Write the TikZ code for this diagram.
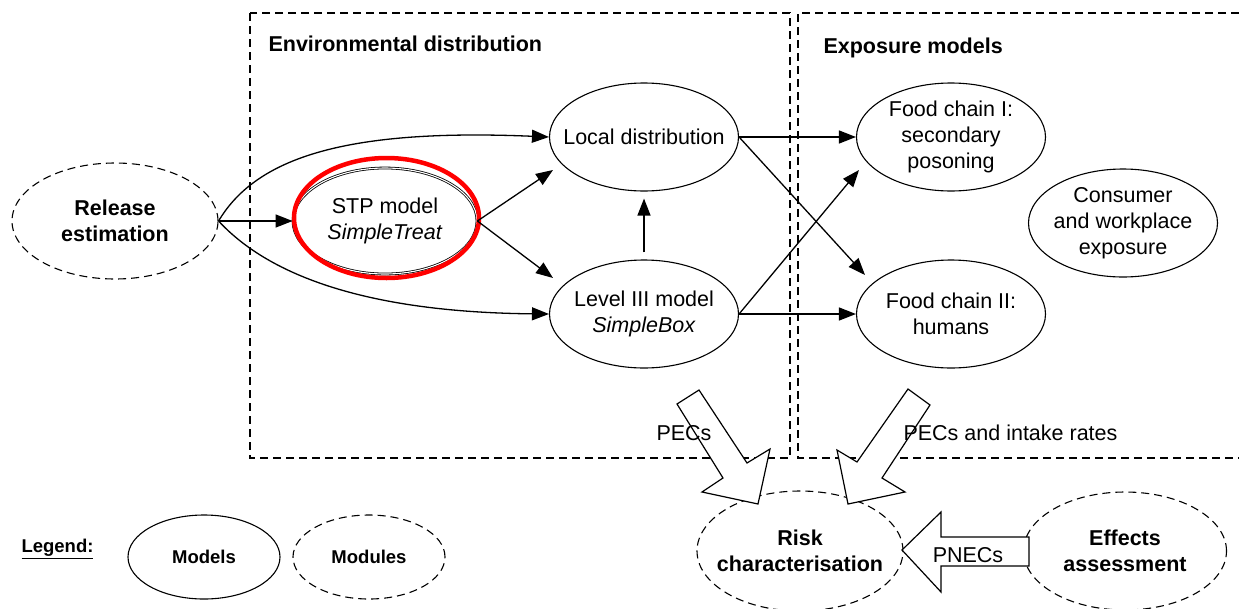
\documentclass[tikz,border=0pt]{standalone}
\usepackage{fontspec}
\setmainfont{Liberation Sans}
\usetikzlibrary{shapes.geometric,arrows.meta,calc}

\begin{document}
\begin{tikzpicture}[x=1pt,y=-1pt,
  every node/.style={font=\fontsize{21.5}{26}\selectfont, align=center},
  boldtext/.style={font=\bfseries\fontsize{21.5}{26}\selectfont},
  legendtext/.style={font=\bfseries\fontsize{18.5}{22}\selectfont},
  % the ellipse size is set only by minimum width/height
  oval/.style={ellipse, inner xsep=-70pt, inner ysep=-45pt},
  model/.style={oval, draw, line width=1.1pt,
    minimum width=189pt, minimum height=108pt},
  module/.style={oval, draw, line width=1.1pt,
    dash pattern=on 8pt off 5pt, boldtext},
  region/.style={draw, line width=1.2pt, dash pattern=on 8pt off 5pt},
  flow/.style={line width=1.3pt, -{Triangle[length=17pt,width=13pt]}},
  block/.style={draw, line width=1.2pt, fill=white, line join=miter},
]
\useasboundingbox (0,0) rectangle (1239,608);

% dashed grouping frames
\draw[region] (250,13) rectangle (790,458);
\draw[region] (1239,13) -- (798,13) -- (798,458) -- (1239,458);
\node[boldtext, anchor=west] (envtitle) at (265,44) {Environmental distribution};
\node[boldtext, anchor=west] (exptitle) at (820,48) {Exposure models};

% modules and models
\node[module, minimum width=206pt, minimum height=116pt] (release) at (115,221) {Release\\estimation};
\node[model, line width=0.8pt, double, double distance=1.1pt,
  minimum width=184pt, minimum height=106pt] (stp) at (385,221) {STP model\\\textit{SimpleTreat}};
\node[oval, draw=red, line width=4.5pt,
  minimum width=185pt, minimum height=120pt] (highlight) at (386.5,218) {};
\node[model] (local) at (644,137) {Local distribution};
\node[model] (level) at (644,314) {Level III model\\\textit{SimpleBox}};
\node[model] (fc1) at (951,137) {Food chain I:\\secondary\\posoning};
\node[model] (fc2) at (951,314) {Food chain II:\\humans};
\node[model] (consumer) at (1123,223) {Consumer\\and workplace\\exposure};
\node[module, minimum width=206pt, minimum height=120pt] (risk) at (800,551) {Risk\\characterisation};
\node[module, minimum width=203pt, minimum height=118pt] (effects) at (1125,551) {Effects\\assessment};

% legend
\node[legendtext, anchor=west] (legend) at (18,549) {\underline{Legend:}};
\node[model, legendtext, minimum width=152pt, minimum height=84pt] (models) at (204,557) {Models};
\node[module, legendtext, minimum width=152pt, minimum height=84pt] (modules) at (369,557) {Modules};

% flows between models
\draw[flow] (release.east) -- (stp.west);
\draw[flow] (release.east) .. controls (255,160) and (340,128) .. (local.west);
\draw[flow] (release.east) .. controls (262,268) and (350,312) .. (level.west);
\draw[flow] (stp.east) -- ($(local.center)+(-91,33)$);
\draw[flow] (stp.east) -- ($(level.center)+(-91,-36)$);
\draw[flow, shorten <=7pt, shorten >=7pt] (level.north) -- (local.south);
\draw[flow] (local.east) -- (fc1.west);
\draw[flow] (local.east) -- ($(fc2.center)+(-86,-39)$);
\draw[flow] (level.east) -- ($(fc1.center)+(-92,33)$);
\draw[flow] (level.east) -- (fc2.west);

% broad arrows into risk characterisation
\draw[block] (699,390) -- (677,404) -- (723,478) -- (702,492) -- (758,504)
  -- (770,449) -- (747,463) -- cycle;
\draw[block] (908,389) -- (930,405) -- (882,478) -- (905,492) -- (848,504)
  -- (837,450) -- (857,462) -- cycle;
\draw[block] (1029,537) -- (941,537) -- (941,512) -- (902,550) -- (941,592)
  -- (941,566) -- (1029,566) -- cycle;
\node (pecs) at (684,433) {PECs};
\node[anchor=west] (pecsintake) at (900,433) {PECs and intake rates};
\node (pnecs) at (968,555) {PNECs};
\end{tikzpicture}
\end{document}
